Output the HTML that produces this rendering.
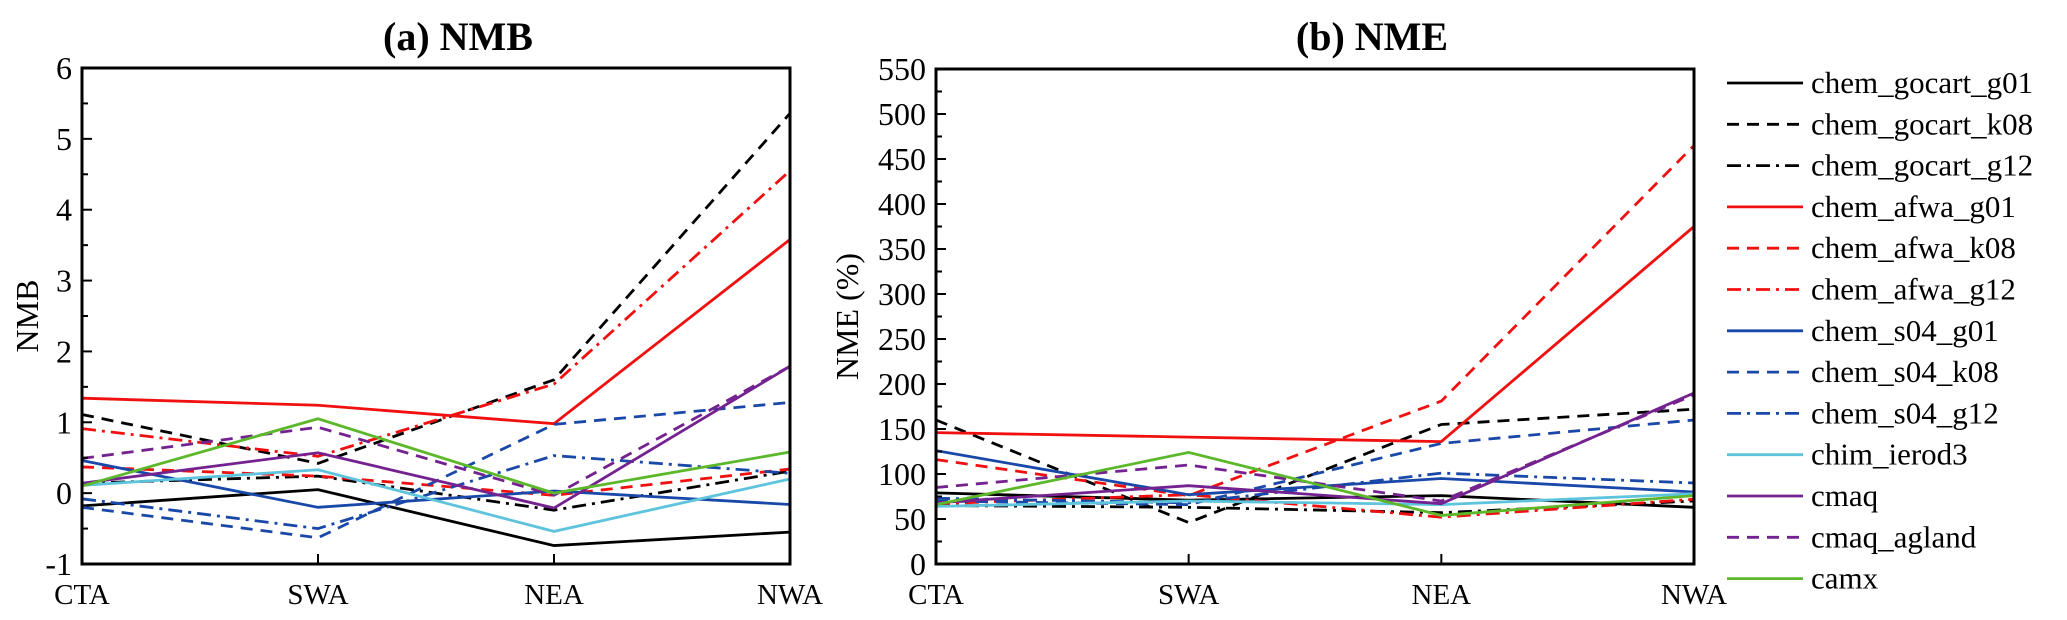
<!DOCTYPE html>
<html><head><meta charset="utf-8"><style>
body{margin:0;background:#fff;}
svg{display:block;}
svg text{font-family:"Liberation Serif","DejaVu Serif",serif;}
</style></head><body>
<svg id="c" width="2067" height="620" viewBox="0 0 2067 620"></svg>
<script>
const categories=["CTA","SWA","NEA","NWA"];
const seriesNames=["chem_gocart_g01","chem_gocart_k08","chem_gocart_g12","chem_afwa_g01","chem_afwa_k08","chem_afwa_g12","chem_s04_g01","chem_s04_k08","chem_s04_g12","chim_ierod3","cmaq","cmaq_agland","camx"];
const nmbValues=[
[-0.18,0.05,-0.74,-0.55],
[1.11,0.42,1.6,5.36],
[0.14,0.24,-0.24,0.31],
[1.34,1.24,0.98,3.58],
[0.37,0.24,-0.03,0.34],
[0.91,0.52,1.54,4.55],
[0.46,-0.2,0.03,-0.16],
[-0.2,-0.63,0.97,1.28],
[-0.08,-0.5,0.53,0.28],
[0.11,0.33,-0.54,0.2],
[0.14,0.57,-0.21,1.79],
[0.49,0.93,-0.03,1.79],
[0.1,1.05,0,0.58]];
const nmeValues=[
[79,71,76,63],
[160,46,155,172],
[65,63,57,70],
[146,141,136,375],
[116,76,181,465],
[67,77,52,72],
[126,77,95,80],
[70,66,134,160],
[73,68,101,90],
[64,70,66,78],
[68,87,67,190],
[85,110,70,188],
[66,124,54,76]];
const nmbTicks=[-1,0,1,2,3,4,5,6];
const nmeTicks=[0,50,100,150,200,250,300,350,400,450,500,550];
const colors=["#000","#000","#000","#f01010","#f01010","#f01010","#1a48a8","#1a48a8","#1a48a8","#5ec3dc","#74228f","#74228f","#5cb82a"];
const dashes=["","12,8","14,6,3,6","","12,8","14,6,3,6","","12,8","14,6,3,6","","","12,8",""];

const NS="http://www.w3.org/2000/svg";
const svg=document.getElementById('c');
function mk(tag,attrs,parent){const e=document.createElementNS(NS,tag);for(const k in attrs)e.setAttribute(k,attrs[k]);(parent||svg).appendChild(e);return e;}

function panel(cfg){
  const {x0,x1,y0,y1,min,max,ticks,values,title,tcx,ylab,ylabx,id}=cfg;
  const g=mk('g',{});
  
  
  const xs=i=>x0+i*(x1-x0)/(categories.length-1);
  const ys=v=>y1-(v-min)/(max-min)*(y1-y0);
  const t=mk('text',{x:tcx,y:50,'text-anchor':'middle','font-size':40,'font-weight':'bold'},g);
  t.textContent=title;
  
  
  const yl=mk('text',{x:ylabx,y:(y0+y1)/2,'text-anchor':'middle','font-size':32,transform:`rotate(-90 ${ylabx} ${(y0+y1)/2})`},g);
  yl.textContent=ylab;
  
  
  values.forEach((vals,s)=>{
    const pts=vals.map((v,i)=>xs(i)+','+ys(v)).join(' ');
    const p=mk('polyline',{points:pts,fill:'none',stroke:colors[s],'stroke-width':2.8,'stroke-dasharray':dashes[s]||'none'},g);
    
    
  });
  const f=mk('rect',{x:x0,y:y0,width:x1-x0,height:y1-y0,fill:'none',stroke:'#000','stroke-width':3},g);
  
  
  ticks.forEach(v=>{
    mk('line',{x1:x0,x2:x0+10,y1:ys(v),y2:ys(v),stroke:'#000','stroke-width':2},g);
    const tl=mk('text',{x:x0-10,y:ys(v)+11,'text-anchor':'end','font-size':32},g);
    tl.textContent=v;
    
    
  });
  for(let i=0;i<ticks.length-1;i++){const v=(ticks[i]+ticks[i+1])/2;mk('line',{x1:x0,x2:x0+6,y1:ys(v),y2:ys(v),stroke:'#000','stroke-width':2},g);}
  categories.forEach((c,i)=>{
    mk('line',{x1:xs(i),x2:xs(i),y1:y1,y2:y1-10,stroke:'#000','stroke-width':2},g);
    const xl=mk('text',{x:xs(i),y:y1+40,'text-anchor':'middle','font-size':29},g);
    xl.textContent=c;
    
    
  });
}
panel({x0:82,x1:790,y0:68,y1:564,min:-1,max:6,ticks:nmbTicks,values:nmbValues,title:"(a) NMB",tcx:458,ylab:"NMB",ylabx:38,id:'nmb'});
panel({x0:936,x1:1694,y0:69,y1:564,min:0,max:550,ticks:nmeTicks,values:nmeValues,title:"(b) NME",tcx:1372,ylab:"NME (%)",ylabx:858,id:'nme'});

const lg=mk('g',{});


seriesNames.forEach((n,s)=>{
  const y=83+s*41.3;
  const e=mk('g',{},lg);
  
  
  mk('line',{x1:1727,x2:1803,y1:y,y2:y,stroke:colors[s],'stroke-width':2.8,'stroke-dasharray':dashes[s]||'none'},e);
  const t=mk('text',{x:1811,y:y+10,'font-size':31},e);
  t.textContent=n;
});
</script>
</body></html>
